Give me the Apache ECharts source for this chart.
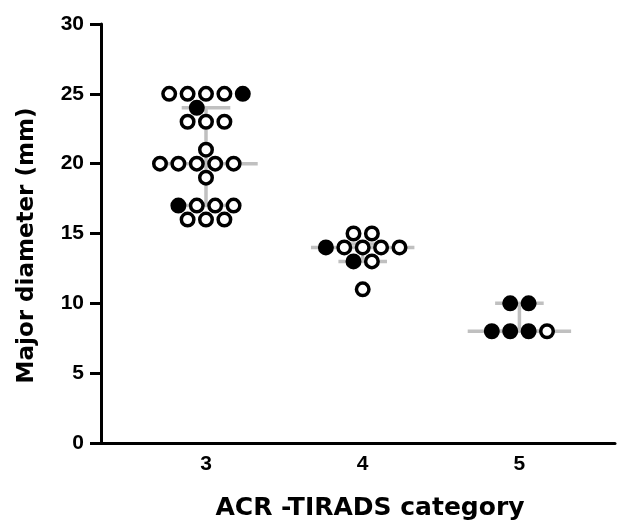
<!DOCTYPE html>
<html>
<head>
<meta charset="utf-8">
<script src="https://cdn.jsdelivr.net/npm/echarts@6/dist/echarts.min.js"></script>
<style>
html,body{margin:0;padding:0;background:#fff;}
#main{width:617px;height:526px;}
</style>
</head>
<body>
<div id="main"></div>
<script>
// ---- data ----
const categories = [3, 4, 5];
const tickLabels = ['3', '4', '5'];
// values per category, within one value in left-to-right order
const cat3Values = [25, 25, 25, 25, 25, 24, 23, 23, 23, 21, 20, 20, 20, 20, 20, 19, 17, 17, 17, 17, 16, 16, 16];
const cat3Filled = [0, 0, 0, 0, 1, 1, 0, 0, 0, 0, 0, 0, 0, 0, 0, 0, 1, 0, 0, 0, 0, 0, 0];
const cat4Values = [15, 15, 14, 14, 14, 14, 14, 13, 13, 11];
const cat4Filled = [0, 0, 1, 0, 0, 0, 0, 1, 0, 0];
const cat5Values = [10, 10, 8, 8, 8, 8];
const cat5Filled = [1, 1, 1, 1, 1, 0];
const xTitle = 'ACR -TIRADS category';
const yTitle = 'Major diameter (mm)';

const groups = [
  { cat: categories[0], values: cat3Values, filled: cat3Filled },
  { cat: categories[1], values: cat4Values, filled: cat4Filled },
  { cat: categories[2], values: cat5Values, filled: cat5Filled }
];

const FONT = 'DejaVu Sans';
const TICKFONT = 'Liberation Sans';
const chart = echarts.init(document.getElementById('main'), null, { renderer: 'canvas' });

const baseOption = {
  animation: false,
  backgroundColor: '#fff',
  grid: { left: 101, right: 2, top: 24, bottom: 82, containLabel: false },
  xAxis: {
    type: 'value', min: 2.33, max: 5.61,
    splitLine: { show: false },
    axisTick: { show: false },
    axisLine: { show: true, onZero: false, lineStyle: { color: '#000', width: 3 } },
    axisLabel: {
      customValues: categories,
      formatter: v => tickLabels[categories.indexOf(Math.round(v))] || '',
      color: '#000', fontFamily: TICKFONT, fontWeight: 'bold', fontSize: 21, margin: 11
    },
    name: xTitle, nameLocation: 'middle', nameGap: 53,
    nameTextStyle: { color: '#000', fontFamily: FONT, fontWeight: 'bold', fontSize: 25, padding: [0, 0, 0, 24] }
  },
  yAxis: {
    type: 'value', min: 0, max: 30, interval: 5,
    splitLine: { show: false },
    axisLine: { show: true, onZero: false, lineStyle: { color: '#000', width: 3 } },
    axisTick: { show: true, length: 11, lineStyle: { color: '#000', width: 3 } },
    axisLabel: { color: '#000', fontFamily: TICKFONT, fontWeight: 'bold', fontSize: 21, margin: 17, padding: [0, 0, 6, 0] },
    name: yTitle, nameLocation: 'middle', nameGap: 62, nameRotate: 90,
    nameTextStyle: { color: '#000', fontFamily: FONT, fontWeight: 'bold', fontSize: 23, padding: [0, 24, 0, 0] }
  },
  series: []
};
chart.setOption(baseOption);

// ---- quartiles (n+1 method) ----
function quantile(sorted, p) {
  const n = sorted.length;
  const pos = (n + 1) * p;
  if (pos <= 1) return sorted[0];
  if (pos >= n) return sorted[n - 1];
  const lo = Math.floor(pos), f = pos - lo;
  return sorted[lo - 1] + f * (sorted[lo] - sorted[lo - 1]);
}

// ---- simple deterministic beeswarm on a half-slot grid ----
const HALF = 9.2;    // px, half of horizontal slot
const DIAM = 15;     // px, collision distance
const x0 = chart.convertToPixel({ xAxisIndex: 0 }, 0);
const x1 = chart.convertToPixel({ xAxisIndex: 0 }, 1);
const pxPerX = x1 - x0;
const yPx = v => chart.convertToPixel({ yAxisIndex: 0 }, v);

const openData = [], filledData = [], barData = [];
groups.forEach(g => {
  const rows = {};
  g.values.forEach((v, i) => { (rows[v] = rows[v] || []).push(i); });
  const keys = Object.keys(rows).map(Number).sort((a, b) => a - b);
  const placed = [];
  keys.forEach(v => {
    const idx = rows[v];
    const n = idx.length;
    const yy = yPx(v);
    const cands = [];
    for (let p = -12; p <= 12; p++) {
      const ok = placed.every(q => Math.hypot((p - q.p) * HALF, yy - q.y) >= DIAM - 0.01);
      if (ok) cands.push(p);
    }
    let best = null, bestScore = Infinity, bestSum = Infinity;
    const cur = [];
    (function dfs(start) {
      if (cur.length === n) {
        const s = cur.reduce((a, b) => a + b * b, 0);
        const sm = Math.abs(cur.reduce((a, b) => a + b, 0));
        if (s < bestScore || (s === bestScore && sm < bestSum)) { bestScore = s; bestSum = sm; best = cur.slice(); }
        return;
      }
      for (let k = start; k < cands.length; k++) {
        const p = cands[k];
        if (cur.length && (p - cur[cur.length - 1]) * HALF < DIAM - 0.01) continue;
        cur.push(p); dfs(k + 1); cur.pop();
      }
    })(0);
    best.forEach((p, j) => {
      placed.push({ p: p, y: yy });
      const i = idx[j];
      const pt = [g.cat + p * HALF / pxPerX, v];
      (g.filled[i] ? filledData : openData).push(pt);
    });
  });
  const s = g.values.slice().sort((a, b) => a - b);
  barData.push([g.cat, quantile(s, 0.25), quantile(s, 0.5), quantile(s, 0.75)]);
});

const MED_HALF = 0.33, CAP_HALF = 0.155;
chart.setOption({
  series: [
    {
      type: 'custom', z: 1, silent: true,
      data: barData,
      renderItem: function (params, api) {
        const c = api.value(0), q1 = api.value(1), md = api.value(2), q3 = api.value(3);
        const st = { stroke: '#c0c0c0', lineWidth: 3.5, lineCap: 'butt' };
        const seg = (xa, ya, xb, yb) => {
          const a = api.coord([xa, ya]), b = api.coord([xb, yb]);
          return { type: 'line', shape: { x1: a[0], y1: a[1], x2: b[0], y2: b[1] }, style: st };
        };
        return { type: 'group', children: [
          seg(c, q1, c, q3),
          seg(c - CAP_HALF, q1, c + CAP_HALF, q1),
          seg(c - CAP_HALF, q3, c + CAP_HALF, q3),
          seg(c - MED_HALF, md, c + MED_HALF, md)
        ] };
      }
    },
    {
      type: 'scatter', z: 3, data: openData, symbol: 'circle', symbolSize: 12.5,
      itemStyle: { color: '#fff', borderColor: '#000', borderWidth: 3.5, opacity: 1 }
    },
    {
      type: 'scatter', z: 3, data: filledData, symbol: 'circle', symbolSize: 12.5,
      itemStyle: { color: '#000', borderColor: '#000', borderWidth: 3.5, opacity: 1 }
    }
  ]
});
</script>
</body>
</html>
